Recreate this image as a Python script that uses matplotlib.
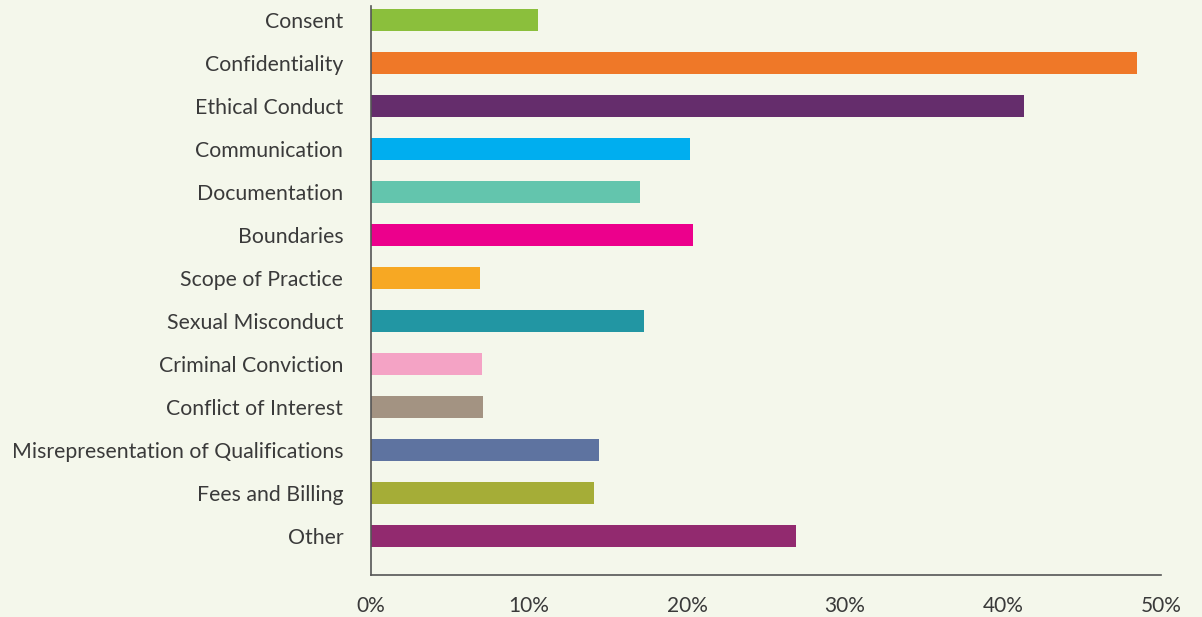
import matplotlib.pyplot as plt
import numpy as np

categories = ["Consent", "Confidentiality", "Ethical Conduct", "Communication",
              "Documentation", "Boundaries", "Scope of Practice", "Sexual Misconduct",
              "Criminal Conviction", "Conflict of Interest",
              "Misrepresentation of Qualifications", "Fees and Billing", "Other"]
values = [10.6, 48.5, 41.3, 20.2, 17.0, 20.4, 6.9, 17.3, 7.0, 7.1, 14.4, 14.1, 26.9]
colours = ["#8BBF3C", "#EF7828", "#652D6C", "#00AEEF", "#63C5AD", "#EC008C",
           "#F7A823", "#2296A3", "#F4A3C5", "#A39382", "#5E73A0", "#A5AD37", "#922A6F"]
xticks = [0, 10, 20, 30, 40, 50]

bg = "#F4F7EB"
plt.rcParams['font.family'] = ['Lato', 'DejaVu Sans']

fig = plt.figure(figsize=(12.02, 6.17), dpi=100, facecolor=bg)
ax = fig.add_axes([371/1202, 1-575/617, (1161-371)/1202, (575-6)/617])
ax.set_facecolor(bg)

y = np.arange(len(categories))
ax.barh(y, values, height=0.53, color=colours)

ax.set_xlim(0, 50)
ax.set_ylim(len(categories) - 1 + 0.907, -0.326)
ax.set_yticks(y)
ax.set_yticklabels(categories, fontsize=15.3, color="#3a3a3a")
ax.set_xticks(xticks)
ax.set_xticklabels([f"{t}%" for t in xticks], fontsize=15, color="#3a3a3a")
ax.tick_params(axis='both', length=0)
ax.tick_params(axis='y', pad=20)
ax.tick_params(axis='x', pad=15)

for s in ["top", "right"]:
    ax.spines[s].set_visible(False)
for s in ["left", "bottom"]:
    ax.spines[s].set_color("#555555")
    ax.spines[s].set_linewidth(1.2)

fig.savefig("out.png", dpi=100, facecolor=bg)
